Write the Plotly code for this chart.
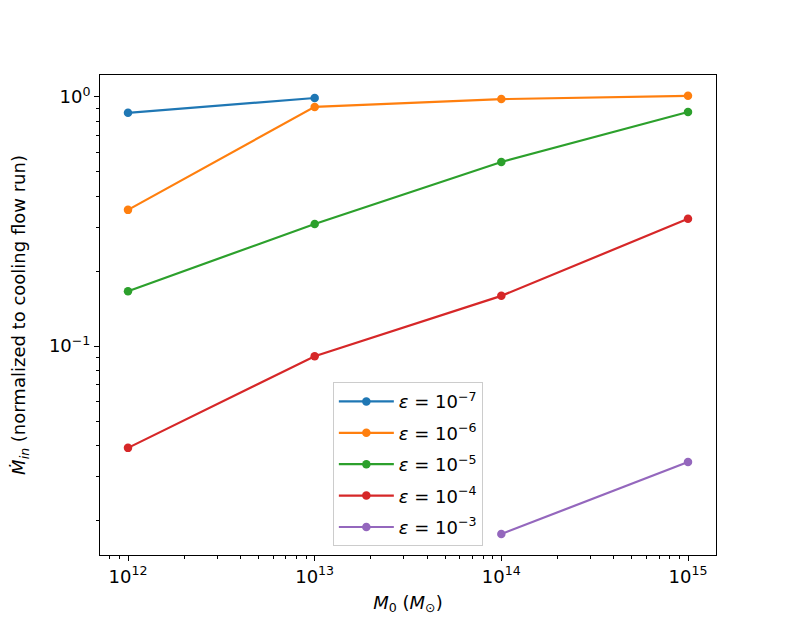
import plotly.graph_objects as go

# 数据
masses = [1e12, 1e13, 1e14, 1e15]

mdot_eps7 = [0.863, 0.99, None, None]
mdot_eps6 = [0.352, 0.912, 0.98, 1.01]
mdot_eps5 = [0.166, 0.309, 0.548, 0.87]
mdot_eps4 = [0.039, 0.091, 0.159, 0.324]
mdot_eps3 = [None, None, 0.0176, 0.0342]

labels = ["<i>ε</i> = 10<sup>−7</sup>", "<i>ε</i> = 10<sup>−6</sup>", "<i>ε</i> = 10<sup>−5</sup>",
          "<i>ε</i> = 10<sup>−4</sup>", "<i>ε</i> = 10<sup>−3</sup>"]
colors = ['#1f77b4', '#ff7f0e', '#2ca02c', '#d62728', '#9467bd']

x_tickvals = [1e12, 1e13, 1e14, 1e15]
x_ticktext = ["10<sup>12</sup>", "10<sup>13</sup>", "10<sup>14</sup>", "10<sup>15</sup>"]
y_tickvals = [0.1, 1]
y_ticktext = ["10<sup>−1</sup>", "10<sup>0</sup>"]

# 次刻度位置 (2..9 × 10^n)
x_minor = [m * 10 ** e for e in range(11, 16) for m in range(2, 10)]
y_minor = [m * 10.0 ** e for e in range(-2, 1) for m in range(2, 10)]

fig = go.Figure()

series = [mdot_eps7, mdot_eps6, mdot_eps5, mdot_eps4, mdot_eps3]
for i, (vals, name, c) in enumerate(zip(series, labels, colors)):
    fig.add_trace(go.Scatter(
        x=masses, y=vals,
        mode='lines+markers',
        name=name,
        legendgroup=f"g{i}",
        line=dict(color=c, width=2.2),
        marker=dict(color=c, size=8.5),
        connectgaps=False
    ))

axis_style = dict(
    showline=True, linecolor='black', linewidth=1, mirror=True,
    ticks='outside', ticklen=5, tickcolor='black', tickwidth=1,
    showgrid=False, zeroline=False, automargin=False,
    tickfont=dict(size=18, color='black'),
)

fig.update_xaxes(
    type='log', range=[11.85, 15.15],
    tickvals=x_tickvals, ticktext=x_ticktext,
    minor=dict(tickvals=x_minor, ticks='outside', ticklen=3, tickcolor='black', tickwidth=0.8, showgrid=False),
    title=dict(text="<i>M</i><sub>0</sub> (<i>M</i><sub>⊙</sub>)", font=dict(size=18, color='black'), standoff=10),
    **axis_style
)
fig.update_yaxes(
    type='log', range=[-1.839, 0.088],
    tickvals=y_tickvals, ticktext=y_ticktext,
    minor=dict(tickvals=y_minor, ticks='outside', ticklen=3, tickcolor='black', tickwidth=0.8, showgrid=False),
    title=dict(text="<i>Ṁ</i><sub><i>in</i></sub> (normalized to cooling flow run)", font=dict(size=18, color='black'), standoff=18),
    **axis_style
)

fig.update_layout(
    width=796, height=624,
    margin=dict(l=92, r=88, t=67, b=77, autoexpand=False),
    plot_bgcolor='white', paper_bgcolor='white',
    font=dict(family='DejaVu Sans', color='black'),
    showlegend=True,
    legend=dict(
        x=0.378, y=0.36, xanchor='left', yanchor='top',
        bgcolor='rgba(255,255,255,0.8)', bordercolor='#cccccc', borderwidth=1,
        font=dict(size=18), itemwidth=55,
        tracegroupgap=5
    )
)

fig.write_html("out.html")
